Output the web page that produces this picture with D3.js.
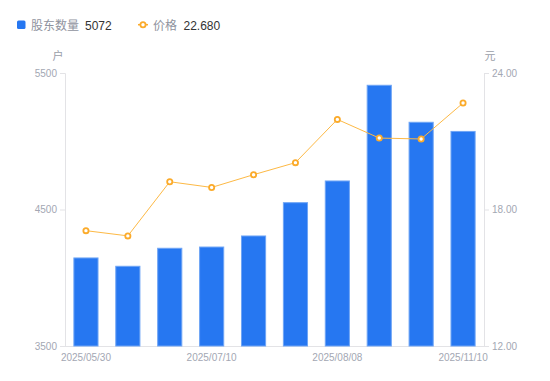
<!DOCTYPE html>
<html><head><meta charset="utf-8">
<script src="https://cdn.jsdelivr.net/npm/d3@7"></script>
<style>body{margin:0;background:#fff;font-family:"Noto Sans CJK SC","Noto Sans",sans-serif;}</style>
</head><body><svg id="c" width="550" height="381"></svg>
<script>
const categories = ["2025/05/30","2025/06/10","2025/06/20","2025/07/10","2025/07/20","2025/07/31","2025/08/08","2025/08/31","2025/09/30","2025/11/10"];
const holders = [4145,4084,4216,4225,4306,4550,4709,5410,5139,5072];
const prices = [17.07,16.84,19.22,18.97,19.53,20.06,21.96,21.14,21.10,22.68];
const leftTicks = [3500,4500,5500];
const rightTicks = [12,18,24];
const xLabelIdx = [0,3,6,9];

const svg = d3.select("#c");
const L=65,R=484,T=73,B=346;
const numFont = "'Liberation Sans', Arial, sans-serif";
const x = d3.scaleBand().domain(categories).range([L,R]).paddingInner(0.4).paddingOuter(0.2);
const yL = d3.scaleLinear().domain([3500,5500]).range([B,T]);
const yR = d3.scaleLinear().domain([12,24]).range([B,T]);
const tickColor="#a3a7b3", lineColor="#e3e3e6";

// axes
const gl = svg.append("g").attr("transform",`translate(${L},0)`)
  .call(d3.axisLeft(yL).tickValues(leftTicks).tickSize(5).tickPadding(3).tickFormat(d3.format("d")));
const gr = svg.append("g").attr("transform",`translate(${R},0)`)
  .call(d3.axisRight(yR).tickValues(rightTicks).tickSize(5).tickPadding(3).tickFormat(d3.format(".2f")));
const gb = svg.append("g").attr("transform",`translate(0,${B})`)
  .call(d3.axisBottom(x).tickValues(xLabelIdx.map(i=>categories[i])).tickSize(0).tickPadding(8));
[gl,gr,gb].forEach(g=>{
  g.selectAll("path").attr("stroke",lineColor);
  g.selectAll("line").attr("stroke",lineColor);
  g.selectAll("text").attr("fill",tickColor).style("font-family",numFont).style("font-size","10px");
});
gb.select("path").attr("d",`M${L},0.5H${R}`);

// unit labels
svg.append("text").attr("x",58).attr("y",60).attr("text-anchor","middle").attr("fill","#9a9ea8").style("font-size","11px").text("户");
svg.append("text").attr("x",490).attr("y",60).attr("text-anchor","middle").attr("fill","#9a9ea8").style("font-size","11px").text("元");

// bars
svg.append("g").selectAll("rect").data(holders).join("rect")
  .attr("x",(d,i)=>x(categories[i])+0.5).attr("width",x.bandwidth()-1)
  .attr("y",d=>yL(d)).attr("height",d=>B-yL(d))
  .attr("fill","#2677f1").attr("stroke","#6fa5f5").attr("stroke-width",1);

// line
const cx = i=>x(categories[i])+x.bandwidth()/2;
const line = d3.line().x((d,i)=>cx(i)).y(d=>yR(d));
svg.append("path").datum(prices).attr("d",line).attr("fill","none").attr("stroke","#fdb945").attr("stroke-width",1);
svg.append("g").selectAll("circle").data(prices).join("circle")
  .attr("cx",(d,i)=>cx(i)).attr("cy",d=>yR(d)).attr("r",2.6)
  .attr("fill","#fff").attr("stroke","#fbab2b").attr("stroke-width",1.8);

// legend
const lg = svg.append("g");
lg.append("rect").attr("x",17).attr("y",20.5).attr("width",8.5).attr("height",8.5).attr("rx",1.5).attr("fill","#2677f1");
lg.append("text").attr("x",31).attr("y",29.5).attr("fill","#8f939e").style("font-size","12px").text("股东数量");
lg.append("text").attr("x",85).attr("y",29.5).attr("fill","#333").style("font-size","12px").style("font-family",numFont).text(String(holders[holders.length-1]));
lg.append("line").attr("x1",138).attr("x2",148).attr("y1",24.7).attr("y2",24.7).attr("stroke","#fbab2b").attr("stroke-width",1.5);
lg.append("circle").attr("cx",143).attr("cy",24.7).attr("r",2.6).attr("fill","#fff").attr("stroke","#fbab2b").attr("stroke-width",1.8);
lg.append("text").attr("x",153).attr("y",29.5).attr("fill","#8f939e").style("font-size","12px").text("价格");
lg.append("text").attr("x",183.5).attr("y",29.5).attr("fill","#333").style("font-size","12px").style("font-family",numFont).text(prices[prices.length-1].toFixed(3));
</script></body></html>
